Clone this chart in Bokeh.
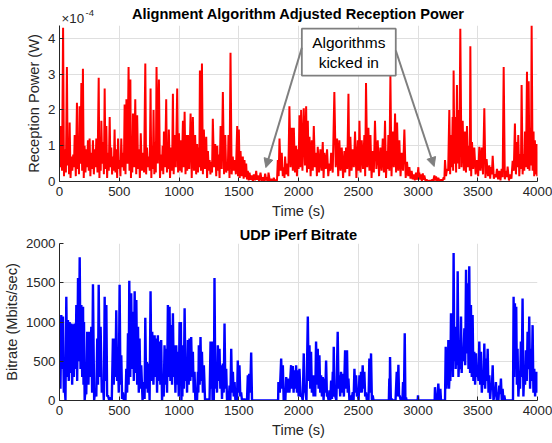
from bokeh.plotting import figure
from bokeh.layouts import column
from bokeh.models import Range1d, FixedTicker, Arrow, NormalHead
from bokeh.core.properties import value
from bokeh.embed import file_html
from bokeh.resources import INLINE

# ---------------- data: reception power (units of 1e-4 W) ----------------
power_t = [
    0, 12, 30, 45, 62, 75, 85, 100, 115, 127,
    146, 158, 168, 183, 196, 210, 225, 238, 252, 265,
    280, 295, 308, 328, 340, 350, 365, 378, 392, 405,
    420, 433, 447, 461, 475, 490, 503, 517, 532, 545,
    560, 578, 593, 603, 615, 634, 650, 665, 680, 697,
    718, 732, 748, 762, 775, 787, 800, 812, 832, 850,
    863, 874, 893, 905, 915, 935, 949, 962, 985, 1000,
    1012, 1033, 1047, 1062, 1075, 1097, 1116, 1135, 1152, 1165,
    1175, 1192, 1208, 1228, 1242, 1256, 1270, 1283, 1303, 1320,
    1331, 1348, 1367, 1387, 1403, 1414, 1431, 1450, 1465, 1487,
    1501, 1515, 1534, 1548, 1562, 1576, 1590, 1610, 1626, 1646,
    1660, 1682, 1702, 1721, 1738, 1749, 1771, 1793, 1813, 1827,
    1841, 1860, 1877, 1888, 1905, 1924, 1944, 1961, 1980, 1994,
    2008, 2022, 2044, 2064, 2078, 2092, 2111, 2128, 2147, 2161,
    2183, 2203, 2217, 2239, 2259, 2273, 2300, 2323, 2342, 2362,
    2384, 2398, 2418, 2434, 2454, 2473, 2496, 2510, 2529, 2551,
    2565, 2585, 2602, 2621, 2640, 2663, 2685, 2705, 2724, 2741,
    2752, 2769, 2788, 2808, 2825, 2844, 2864, 2886, 2908, 2928,
    2947, 2964, 2983, 3003,
    3011, 3025, 3040, 3053, 3075, 3095, 3115, 3137, 3151, 3170,
    3193, 3215, 3226, 3243, 3262, 3276, 3290, 3298, 3312, 3326,
    3337, 3354, 3374, 3393, 3410, 3429, 3438, 3452, 3471, 3494,
    3513, 3533, 3555, 3574, 3597, 3611, 3625, 3644, 3661, 3680,
    3700, 3717, 3736, 3750, 3772, 3792, 3811, 3828, 3839, 3856,
    3867, 3884, 3895, 3912, 3926, 3940, 3951, 3967, 3978, 3995,
    4000,
]
power_peak = [
    1.5, 1.55, 4.3, 0.9, 3.2, 1.2, 1.65, 0.7, 0.75, 1.3,
    2.2, 1.0, 2.1, 2.75, 3.15, 1.0, 0.9, 1.15, 1.2, 0.8,
    1.15, 0.9, 1.2, 2.9, 1.0, 1.7, 1.1, 2.6, 1.55, 0.8,
    1.8, 0.95, 0.7, 1.45, 0.9, 1.2, 0.6, 1.2, 0.8, 2.15,
    2.3, 3.2, 2.85, 1.2, 1.9, 2.3, 1.85, 0.9, 1.35, 0.8,
    3.3, 0.95, 0.7, 2.6, 1.0, 2.0, 1.1, 3.2, 2.85, 0.75,
    1.0, 1.4, 2.3, 1.0, 1.45, 0.95, 2.45, 1.3, 2.6, 1.35,
    1.15, 1.7, 1.95, 1.3, 1.3, 1.9, 1.8, 1.3, 1.05, 0.95,
    3.1, 3.3, 1.45, 1.25, 0.85, 0.6, 0.55, 1.75, 1.05, 1.0,
    0.75, 1.55, 2.5, 1.3, 0.5, 1.3, 3.6, 0.7, 0.6, 1.55,
    1.45, 0.85, 0.7, 0.6, 0.5, 0.3, 0.25, 0.17, 0.2, 0.3,
    0.17, 0.25, 0.12, 0.22, 0.12, 0.25, 0.07, 0.1, 0.05, 0.6,
    1.2, 0.8, 0.4, 0.7, 0.5, 2.1, 1.5, 1.5, 1.0, 0.9,
    1.85, 2.0, 2.05, 2.1, 1.7, 1.25, 1.15, 1.55, 0.8, 0.97,
    0.9, 1.1, 0.8, 0.9, 0.5, 0.8, 2.5, 1.2, 1.15, 0.95,
    0.85, 0.95, 2.45, 1.25, 0.9, 1.4, 1.15, 1.7, 1.15, 1.3,
    2.75, 1.5, 1.3, 0.85, 1.7, 1.15, 0.95, 1.2, 1.7, 0.85,
    1.3, 2.95, 1.4, 1.9, 1.65, 1.15, 0.8, 1.45, 0.55, 0.4,
    0.3, 0.2, 0.25, 0.4,
    0.25, 0.2, 0.23, 0.17, 0.05, 0.03, 0.05, 0.17, 0.14, 0.1,
    0.05, 0.12, 0.6, 0.35, 2.0, 1.3, 1.8, 3.1, 1.8, 2.7,
    2.0, 4.27, 1.7, 1.4, 1.55, 1.0, 3.78, 1.1, 0.95, 0.6,
    0.97, 0.95, 2.05, 0.63, 0.45, 0.4, 0.72, 0.2, 0.35, 0.3,
    0.35, 3.2, 0.3, 0.42, 0.2, 0.58, 1.62, 1.1, 1.3, 0.77,
    2.7, 0.77, 1.4, 3.07, 2.8, 1.5, 4.36, 1.4, 1.15, 1.05,
    0.77,
]
power_trough = [
    0.4, 0.3, 0.15, 0.25, 0.45, 0.2, 0.1, 0.3, 0.4, 0.15,
    0.35, 0.2, 0.5, 0.3, 0.1, 0.25, 0.4, 0.3, 0.15, 0.35,
    0.2, 0.4, 0.25, 0.1, 0.3, 0.5, 0.2, 0.35, 0.1, 0.3,
    0.4, 0.2, 0.3, 0.25, 0.1, 0.35, 0.15, 0.4, 0.3, 0.2,
    0.5, 0.3, 0.1, 0.25, 0.4, 0.2, 0.35, 0.1, 0.3, 0.25,
    0.2, 0.4, 0.3, 0.1, 0.35, 0.2, 0.25, 0.5, 0.1, 0.3,
    0.2, 0.4, 0.25, 0.35, 0.1, 0.3, 0.2, 0.4, 0.25, 0.3,
    0.25, 0.4, 0.2, 0.3, 0.35, 0.1, 0.3, 0.2, 0.25, 0.4,
    0.3, 0.2, 0.35, 0.1, 0.3, 0.2, 0.25, 0.4, 0.15, 0.3,
    0.1, 0.35, 0.2, 0.25, 0.3, 0.1, 0.2, 0.3, 0.2, 0.15,
    0.1, 0.15, 0.08, 0.12, 0.06, 0.03, 0.05, 0.0, 0.03, 0.05,
    0.0, 0.02, 0.0, 0.03, 0.0, 0.02, 0.0, 0.0, 0.02, 0.15,
    0.3, 0.15, 0.1, 0.2, 0.15, 0.4, 0.3, 0.25, 0.15, 0.35,
    0.4, 0.3, 0.45, 0.25, 0.35, 0.15, 0.3, 0.4, 0.15, 0.25,
    0.3, 0.1, 0.35, 0.15, 0.3, 0.25, 0.4, 0.15, 0.3, 0.1,
    0.25, 0.35, 0.15, 0.3, 0.4, 0.1, 0.3, 0.25, 0.35, 0.15,
    0.4, 0.3, 0.1, 0.25, 0.35, 0.15, 0.3, 0.25, 0.1, 0.35,
    0.3, 0.15, 0.4, 0.25, 0.3, 0.15, 0.3, 0.1, 0.15, 0.08,
    0.06, 0.03, 0.05, 0.1,
    0.05, 0.02, 0.05, 0.0, 0.0, 0.0, 0.0, 0.03, 0.02, 0.0,
    0.0, 0.05, 0.15, 0.3, 0.2, 0.4, 0.3, 0.5, 0.25, 0.5,
    0.35, 0.4, 0.3, 0.25, 0.4, 0.3, 0.15, 0.35, 0.2, 0.15,
    0.3, 0.2, 0.1, 0.15, 0.08, 0.2, 0.08, 0.12, 0.06, 0.03,
    0.12, 0.06, 0.12, 0.03, 0.08, 0.3, 0.2, 0.4, 0.15, 0.35,
    0.2, 0.3, 0.4, 0.35, 0.3, 0.45, 0.3, 0.15, 0.2, 0.15,
]

# ---------------- data: UDP iPerf bitrate (Mbits/sec) ----------------
rate_t = [
    1, 15, 29, 43, 57, 71, 85, 99, 113, 127,
    141, 155, 169, 183, 197, 205, 216, 232, 252, 266,
    280, 300, 316, 328, 344, 364, 378, 392, 405, 428,
    447, 461, 475, 489, 503, 517, 531, 545, 559, 573,
    584, 600, 615, 629, 643, 657, 670, 684, 706, 718,
    732, 746, 762, 776, 796, 810, 823, 837, 851, 865,
    879, 893, 907, 921, 935, 949, 963, 977, 991, 1005,
    1016, 1024, 1033, 1047, 1061, 1074, 1088, 1102, 1116, 1130,
    1144, 1158, 1166, 1180, 1192, 1208, 1228, 1247, 1264, 1275,
    1286, 1297, 1311, 1325, 1339, 1353, 1367, 1381, 1395, 1409,
    1423, 1437, 1451, 1465, 1479, 1492, 1506, 1520, 1534, 1548,
    1562, 1576, 1587, 1604, 1618, 1827, 1832, 1855, 1869, 1883,
    1897, 1910, 1938, 1952, 1966, 1980, 1994,
    2008, 2027, 2044, 2055, 2078, 2092, 2105, 2119, 2133, 2147,
    2161, 2175, 2189, 2203, 2217, 2231, 2245, 2259, 2273, 2287,
    2295, 2306, 2328, 2342, 2356, 2370, 2390, 2406, 2418, 2434,
    2454, 2468, 2482, 2496, 2510, 2523, 2537, 2551, 2565, 2579,
    2593, 2607, 2621, 2635, 2752, 2760, 2766, 2780, 2802, 2822,
    2836, 2847, 2864, 2875, 2889, 2900, 2908, 2995, 3000, 3005,
    3137, 3142, 3153, 3170, 3187, 3198, 3220, 3232, 3243, 3254,
    3265, 3276, 3287, 3298, 3310, 3321, 3332, 3346, 3360, 3371,
    3388, 3402, 3416, 3429, 3443, 3457, 3471, 3485, 3499, 3513,
    3527, 3541, 3555, 3569, 3583, 3597, 3611, 3625, 3638, 3652,
    3666, 3680, 3694, 3708, 3722, 3736, 3790, 3800, 3811, 3822,
    3833, 3847, 3861, 3875, 3889, 3903, 3917, 3931, 3945, 3959,
    3973, 3987, 4000,
]
rate_peak = [
    750, 1090, 1070, 190, 1320, 1025, 1000, 980, 970, 980,
    1215, 1560, 1825, 1215, 1195, 1000, 105, 875, 875, 940,
    1480, 150, 790, 1475, 940, 235, 1320, 1215, 65, 40,
    790, 790, 1150, 575, 1475, 575, 105, 65, 405, 855,
    1525, 1365, 1130, 1390, 1280, 940, 790, 450, 235, 1055,
    490, 470, 1390, 875, 830, 790, 830, 750, 770, 190,
    705, 660, 1215, 1195, 960, 1110, 705, 705, 620, 1000,
    1000, 190, 705, 1175, 405, 770, 790, 810, 620, 365,
    65, 365, 705, 810, 620, 450, 20, 20, 750, 750,
    235, 1560, 405, 705, 660, 450, 470, 980, 405, 65,
    190, 660, 365, 235, 65, 510, 450, 105, 20, 20,
    0, 320, 340, 610, 0, 0, 235, 535, 450, 40,
    300, 280, 450, 440, 385, 450, 385,
    405, 65, 600, 150, 1070, 705, 620, 320, 320, 750,
    660, 575, 320, 300, 280, 510, 65, 130, 255, 365,
    685, 65, 875, 320, 365, 340, 640, 640, 280, 65,
    105, 405, 320, 85, 320, 365, 450, 365, 105, 65,
    535, 600, 65, 0, 0, 280, 555, 20, 0, 365,
    455, 65, 20, 235, 855, 40, 0, 0, 65, 0,
    0, 170, 20, 215, 150, 0, 0, 685, 365, 770,
    365, 1110, 790, 1880, 940, 830, 1645, 620, 1070, 660,
    920, 1665, 1495, 1710, 1215, 1090, 620, 600, 405, 750,
    620, 320, 725, 535, 660, 320, 190, 450, 65, 235,
    105, 190, 280, 150, 65, 0, 0, 1320, 1240, 1195,
    660, 280, 750, 1300, 365, 640, 875, 1070, 660, 960,
    405, 365, 365,
]
rate_trough = [
    150, 400, 100, 0, 300, 250, 350, 200, 300, 400,
    250, 500, 400, 300, 200, 0, 80, 200, 300, 100,
    0, 50, 200, 300, 100, 0, 250, 50, 0, 0,
    200, 300, 250, 100, 200, 20, 0, 0, 100, 200,
    300, 400, 250, 350, 200, 100, 150, 0, 20, 150,
    100, 0, 250, 200, 300, 100, 250, 200, 0, 50,
    200, 100, 300, 250, 200, 300, 100, 200, 50, 250,
    0, 50, 150, 250, 100, 200, 250, 300, 100, 0,
    0, 100, 200, 250, 100, 0, 0, 0, 150, 0,
    0, 150, 100, 250, 150, 20, 100, 150, 0, 0,
    0, 100, 50, 0, 0, 100, 50, 0, 0, 0,
    0, 0, 100, 0, 0, 0, 100, 150, 0, 0,
    100, 100, 150, 100, 150, 100, 50,
    50, 0, 100, 0, 250, 150, 100, 50, 50, 200,
    150, 100, 50, 0, 100, 50, 0, 0, 20, 100,
    50, 0, 150, 50, 100, 50, 150, 100, 0, 0,
    0, 100, 50, 0, 100, 100, 150, 50, 0, 0,
    100, 0, 0, 0, 0, 0, 0, 0, 0, 50,
    50, 0, 0, 0, 0, 0, 0, 0, 0, 0,
    0, 0, 0, 0, 0, 0, 0, 150, 200, 150,
    250, 400, 300, 500, 400, 450, 300, 400, 350, 500,
    450, 600, 400, 350, 300, 250, 200, 300, 250, 200,
    100, 200, 150, 250, 100, 20, 150, 0, 80, 0,
    0, 80, 0, 0, 0, 0, 0, 300, 400, 200,
    50, 150, 300, 50, 200, 250, 400, 150, 250, 100,
    50, 100,
]

x_ticks = [0, 500, 1000, 1500, 2000, 2500, 3000, 3500, 4000]
power_ticks = [0, 1, 2, 3, 4]
rate_ticks = [0, 500, 1000, 1500, 2000]

top_title = "Alignment Algorithm Adjusted Reception Power"
bottom_title = "UDP iPerf Bitrate"
exp_base, exp_power = "×10", "-4"

# annotation geometry (data units of the top chart)
box_left, box_right, box_bottom, box_top = 2028, 2814, 2.96, 4.27
box_lines = ["Algorithms", "kicked in"]
box_line_y = [3.89, 3.33]
arrows = [((2028, 3.74), (1727, 0.39)), ((2814, 3.66), (3135, 0.42))]

FONT = "Liberation Sans"
DARK = "#262626"
GRID = "#dfdfdf"
W = 552
HEAD = 25
LEFT, RIGHT = 59, 15
FW = W - LEFT - RIGHT
FH1 = 156
FH2 = 157


def interleave(t, peaks, troughs):
    xs, ys = [], []
    for i in range(len(peaks)):
        xs.append(t[i])
        ys.append(peaks[i])
        if i < len(troughs) and i + 1 < len(peaks):
            xs.append((t[i] + t[i + 1]) / 2.0)
            ys.append(troughs[i])
    return xs, ys


def style(p, yticks, ylabel):
    p.outline_line_color = None
    p.background_fill_color = "white"
    p.border_fill_color = "white"
    p.xaxis.ticker = FixedTicker(ticks=x_ticks)
    p.yaxis.ticker = FixedTicker(ticks=yticks)
    p.xgrid.ticker = FixedTicker(ticks=x_ticks)
    p.ygrid.ticker = FixedTicker(ticks=yticks)
    for g in (p.xgrid, p.ygrid):
        g.grid_line_color = GRID
        g.grid_line_width = 1
    for ax in (p.xaxis, p.yaxis):
        ax.axis_line_color = DARK
        ax.axis_line_width = 1
        ax.major_tick_line_color = DARK
        ax.major_tick_in = 4
        ax.major_tick_out = 0
        ax.minor_tick_line_color = None
        ax.major_label_text_font = FONT
        ax.major_label_text_font_size = "13.3px"
        ax.major_label_text_color = DARK
        ax.axis_label_text_font = FONT
        ax.axis_label_text_font_size = "14.6px"
        ax.axis_label_text_font_style = "normal"
        ax.axis_label_text_color = DARK
        ax.major_label_standoff = 4
        ax.axis_label_standoff = 3
    p.xaxis.major_label_standoff = 5
    p.xaxis.axis_label_standoff = 4
    p.xaxis.axis_label = "Time (s)"
    p.yaxis.axis_label = ylabel


# ---------------- header strip (top title + exponent) ----------------
# the column aligns this strip's frame with the charts' frames (LEFT .. LEFT+FW),
# so its x range is expressed in page pixels over that span
head = figure(width=W, height=HEAD, x_range=Range1d(LEFT, LEFT + FW), y_range=Range1d(HEAD, 0),
              output_backend="svg", toolbar_location=None,
              min_border_left=LEFT, min_border_right=RIGHT, min_border_top=0, min_border_bottom=0)
head.axis.visible = False
head.grid.visible = False
head.outline_line_color = None
head.border_fill_color = "white"
head.text(x=[LEFT + FW / 2.0], y=[13], text=[top_title], text_align="center",
          text_baseline="middle", text_font=value(FONT), text_font_size="14.6px",
          text_font_style="bold", text_color="#000000")
head.text(x=[LEFT + 2], y=[18], text=[exp_base], text_align="left",
          text_baseline="middle", text_font=value(FONT), text_font_size="13.3px",
          text_color=DARK)
head.text(x=[LEFT + 26], y=[12], text=[exp_power], text_align="left",
          text_baseline="middle", text_font=value(FONT), text_font_size="9.5px",
          text_color=DARK)

# ---------------- top chart ----------------
p1 = figure(frame_width=FW, frame_height=FH1,
            x_range=Range1d(0, 4000), y_range=Range1d(0, 4.36),
            output_backend="svg", toolbar_location=None,
            min_border_left=LEFT, min_border_right=RIGHT,
            min_border_top=0, min_border_bottom=41)
style(p1, power_ticks, "Reception Power (W)")
px, py = interleave(power_t, power_peak, power_trough)
p1.line(px, py, line_color="#ff0000", line_width=2.0)

p1.quad(left=[box_left], right=[box_right], bottom=[box_bottom], top=[box_top],
        fill_color="white", line_color="#7f7f7f", line_width=1.8)
p1.text(x=[(box_left + box_right) / 2.0] * 2, y=box_line_y, text=box_lines,
        text_align="center", text_baseline="middle",
        text_font=value(FONT), text_font_size="15.5px", text_color="#000000")
for (x0, y0), (x1, y1) in arrows:
    p1.add_layout(Arrow(end=NormalHead(size=9, fill_color="#7f7f7f", line_color="#7f7f7f"),
                        x_start=x0, y_start=y0, x_end=x1, y_end=y1,
                        line_color="#7f7f7f", line_width=2))

# ---------------- bottom chart ----------------
p2 = figure(frame_width=FW, frame_height=FH2,
            x_range=Range1d(0, 4000), y_range=Range1d(0, 2000),
            title=bottom_title,
            output_backend="svg", toolbar_location=None,
            min_border_left=LEFT, min_border_right=RIGHT,
            min_border_top=21, min_border_bottom=43)
style(p2, rate_ticks, "Bitrate (Mbits/sec)")
p2.title.align = "center"
p2.title.text_font = FONT
p2.title.text_font_size = "14.6px"
p2.title.text_font_style = "bold"
p2.title.text_color = "#000000"
p2.title.standoff = 1
bx, by = interleave(rate_t, rate_peak, rate_trough)
p2.line(bx, by, line_color="#0000ff", line_width=2.4)

layout = column(head, p1, p2, spacing=0)
open("out.html", "w").write(file_html(layout, INLINE))
